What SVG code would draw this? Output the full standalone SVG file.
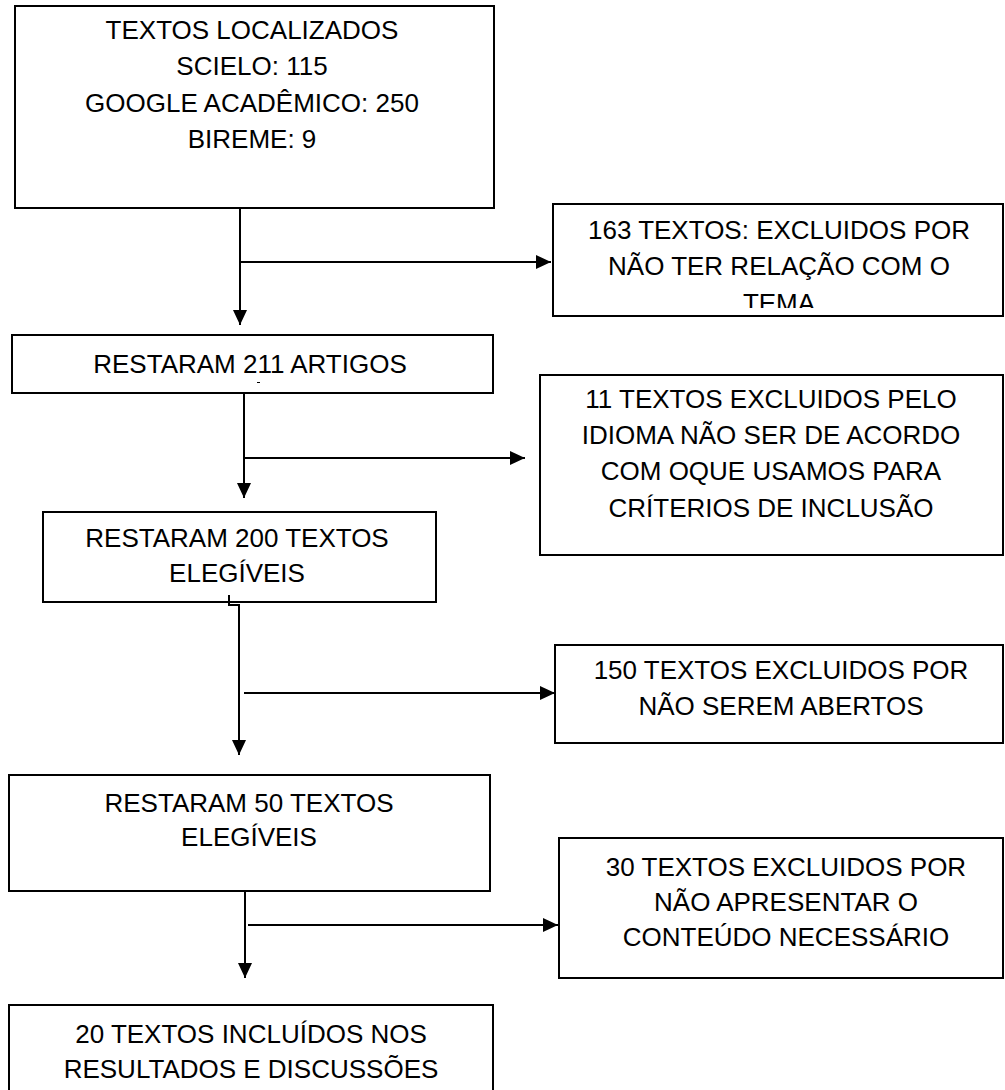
<svg xmlns="http://www.w3.org/2000/svg" width="1005" height="1090" viewBox="0 0 1005 1090">
<style>
.box{fill:#fff;stroke:#000;stroke-width:2}
.t{font-family:"Liberation Sans",Arial,sans-serif;font-size:26px;fill:#000;text-anchor:middle}
.c{fill:none;stroke:#000;stroke-width:2}
</style>
<defs>
<marker id="ah" markerUnits="userSpaceOnUse" markerWidth="15" markerHeight="14" refX="15" refY="7" orient="auto">
<path d="M0,0 L15,7 L0,14 z" fill="#000"/>
</marker>
<clipPath id="clip163"><rect x="553" y="204" width="450" height="104"/></clipPath>
</defs>
<rect width="1005" height="1090" fill="#fff"/>
<g id="n1">
<rect class="box" x="15" y="6" width="479" height="202"/>
<text class="t" x="252" y="39">TEXTOS LOCALIZADOS</text>
<text class="t" x="252" y="75">SCIELO: 115</text>
<text class="t" x="252" y="112">GOOGLE ACADÊMICO: 250</text>
<text class="t" x="252" y="148">BIREME: 9</text>
</g>
<g id="n163">
<rect class="box" x="553" y="204" width="450" height="112"/>
<g clip-path="url(#clip163)">
<text class="t" x="779" y="239">163 TEXTOS: EXCLUIDOS POR</text>
<text class="t" x="779" y="275">NÃO TER RELAÇÃO COM O</text>
<text class="t" x="779" y="312">TEMA</text>
</g>
</g>
<g id="n211">
<rect class="box" x="12" y="335" width="481" height="58"/>
<text class="t" x="250" y="373">RESTARAM 211 ARTIGOS</text>
<rect x="257" y="382" width="3" height="1" fill="#000"/>
</g>
<g id="n11">
<rect class="box" x="540" y="375" width="463" height="180"/>
<text class="t" x="771" y="408">11 TEXTOS EXCLUIDOS PELO</text>
<text class="t" x="771" y="444">IDIOMA NÃO SER DE ACORDO</text>
<text class="t" x="771" y="480">COM OQUE USAMOS PARA</text>
<text class="t" x="771" y="517">CRÍTERIOS DE INCLUSÃO</text>
</g>
<g id="n200">
<rect class="box" x="43" y="512" width="393" height="90"/>
<text class="t" x="237" y="547">RESTARAM 200 TEXTOS</text>
<text class="t" x="237" y="582">ELEGÍVEIS</text>
</g>
<g id="n150">
<rect class="box" x="555" y="645" width="448" height="98"/>
<text class="t" x="781" y="679">150 TEXTOS EXCLUIDOS POR</text>
<text class="t" x="781" y="715">NÃO SEREM ABERTOS</text>
</g>
<g id="n50">
<rect class="box" x="9" y="775" width="481" height="116"/>
<text class="t" x="249" y="812">RESTARAM 50 TEXTOS</text>
<text class="t" x="249" y="846">ELEGÍVEIS</text>
</g>
<g id="n30">
<rect class="box" x="559" y="838" width="444" height="140"/>
<text class="t" x="786" y="876">30 TEXTOS EXCLUIDOS POR</text>
<text class="t" x="786" y="911">NÃO APRESENTAR O</text>
<text class="t" x="786" y="946">CONTEÚDO NECESSÁRIO</text>
</g>
<g id="n20">
<rect class="box" x="9" y="1005" width="484" height="100"/>
<text class="t" x="251" y="1043">20 TEXTOS INCLUÍDOS NOS</text>
<text class="t" x="251" y="1078">RESULTADOS E DISCUSSÕES</text>
</g>
<g id="connectors">
<path class="c" d="M240,208 V325" marker-end="url(#ah)"/>
<path class="c" d="M240,262 H551" marker-end="url(#ah)"/>
<path class="c" d="M244,393 V498" marker-end="url(#ah)"/>
<path class="c" d="M244,458 H525" marker-end="url(#ah)"/>
<path class="c" d="M229,595 V605 H239 V755" marker-end="url(#ah)"/>
<path class="c" d="M244,693 H555" marker-end="url(#ah)"/>
<path class="c" d="M245,891 V978" marker-end="url(#ah)"/>
<path class="c" d="M248,925 H558" marker-end="url(#ah)"/>
</g>
</svg>
